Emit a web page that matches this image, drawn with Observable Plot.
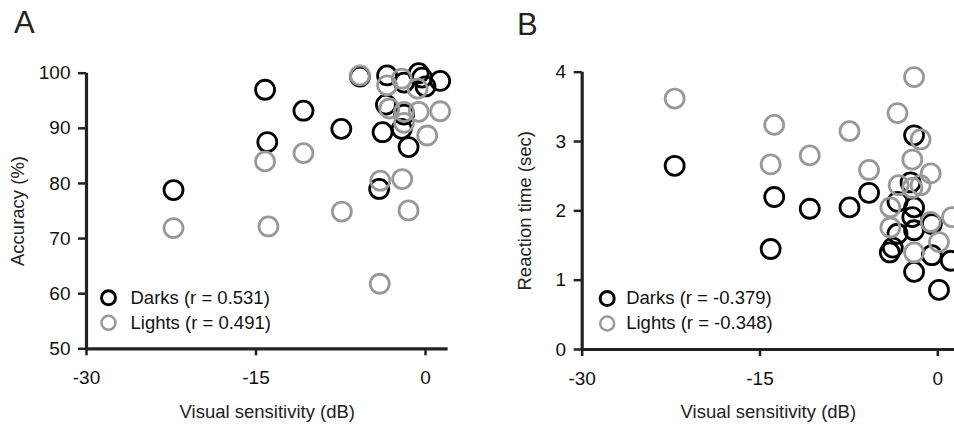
<!DOCTYPE html>
<html><head><meta charset="utf-8">
<script src="https://cdn.jsdelivr.net/npm/d3@7"></script>
<script src="https://cdn.jsdelivr.net/npm/@observablehq/plot@0.6"></script>
<style>
html,body{margin:0;padding:0;background:#fff;overflow:hidden;}
#wrap{position:relative;width:954px;height:426px;font-family:"Liberation Sans",Arial,sans-serif;}
.panel{position:absolute;top:0;}
.letter{position:absolute;font-size:31px;line-height:31px;color:#222;}
</style></head><body>
<div id="wrap">
  <div class="panel" id="pa" style="left:0"></div>
  <div class="panel" id="pb" style="left:477px"></div>
  <div class="letter" style="left:14px;top:7px">A</div>
  <div class="letter" style="left:517px;top:9px">B</div>
</div>
<script>
// ---- Panel A: Accuracy vs visual sensitivity ----
const aDarkX  = [-22.3,-14.2,-14.0,-10.8,-7.45,-5.8,-4.1,-3.8,-3.5,-3.4,-2.1,-1.5,-1.9,-0.6,0.0,1.3,-1.9,-0.3];
const aDarkY  = [78.8,97.0,87.5,93.2,89.9,99.4,79.0,89.3,94.3,99.6,89.9,86.6,98.3,100,97.6,98.6,92.5,99.2];
const aLightX = [-22.3,-14.2,-13.9,-10.8,-7.4,-5.8,-4.0,-4.05,-2.06,-1.5,0.15,1.3,-3.4,-2.1,-0.7,-3.2,-1.9,-0.6,-1.9];
const aLightY = [71.9,84.0,72.2,85.5,74.9,99.6,80.5,61.8,80.8,75.1,88.7,93.1,97.8,99.0,97.2,93.6,93.0,93.0,91.0];
const aLegend = ["Darks (r = 0.531)", "Lights (r = 0.491)"];
const aYTicks = [50,60,70,80,90,100];

// ---- Panel B: Reaction time vs visual sensitivity ----
const bDarkX  = [-22.2,-13.8,-14.1,-10.8,-7.45,-5.8,-2.0,-4.05,-3.8,-2.0,0.1,-0.5,1.1,-0.5,-3.4,-2.3,-2.0,-2.15,-2.0,-3.4];
const bDarkY  = [2.65,2.20,1.45,2.03,2.05,2.26,3.09,1.40,1.47,1.12,0.86,1.36,1.28,1.81,2.13,2.41,2.05,1.91,1.72,1.67];
const bLightX = [-22.2,-13.8,-14.1,-10.8,-7.45,-5.8,-3.4,-2.0,-1.45,-2.15,-0.6,-3.3,-1.45,-2.15,-4.0,-4.0,-2.0,0.1,1.2,-0.6];
const bLightY = [3.62,3.24,2.67,2.80,3.15,2.59,3.41,3.93,3.03,2.74,2.54,2.37,2.37,2.33,2.05,1.76,1.40,1.55,1.91,1.84];
const bLegend = ["Darks (r = -0.379)", "Lights (r = -0.348)"];
const bYTicks = [0,1,2,3,4];

const xTicks = [-30,-15,0];
const xLabel = "Visual sensitivity (dB)";
const aYLabel = "Accuracy (%)";
const bYLabel = "Reaction time (sec)";

const AX = "#222", DARK = "#000", LIGHT = "#999";
const font = "'Liberation Sans', Arial, sans-serif";

function pts(xs, ys){ return xs.map((x,i)=>({x, y: ys[i]})); }

function panel(o){
  return Plot.plot({
    width: 477, height: 426,
    marginLeft: o.ml, marginRight: o.mr, marginTop: o.mt, marginBottom: o.mb,
    x: {domain: o.xd},
    y: {domain: o.yd},
    style: {fontFamily: font, fontSize: "18px", color: "#111", background: "white", overflow: "visible"},
    marks: [
      Plot.axisX(xTicks, {tickSize: 7, tickPadding: 15, tickFormat: d => String(d), label: null, stroke: AX, strokeWidth: 2.5, fontSize: 19}),
      Plot.axisY(o.yt, {tickSize: 8, tickPadding: 8, tickFormat: d => String(d), label: null, stroke: AX, strokeWidth: 2.5, fontSize: 19}),
      Plot.ruleX([o.xd[0]], {stroke: AX, strokeWidth: 3.2}),
      Plot.ruleY([o.yd[0]], {stroke: AX, strokeWidth: 3.2}),
      Plot.text([xLabel], {text: d => d, frameAnchor: "bottom", dy: 63, lineAnchor: "middle", textAnchor: "middle", fontSize: 18.5, fill: "#222"}),
      Plot.text([o.ylabel], {text: d => d, frameAnchor: "left", rotate: -90, dx: o.ylx, textAnchor: "middle", lineAnchor: "middle", fontSize: 18.5, fill: "#222"}),
      Plot.dot(pts(o.dx, o.dy), {x: "x", y: "y", r: 9.5, stroke: DARK, strokeWidth: 2.8}),
      Plot.dot(pts(o.lx, o.ly), {x: "x", y: "y", r: 9.5, stroke: LIGHT, strokeWidth: 2.8}),
      Plot.dot([o.legend[0]], {frameAnchor: "bottom-left", dx: o.legx, dy: -51, r: 7, stroke: DARK, strokeWidth: 3}),
      Plot.dot([o.legend[1]], {frameAnchor: "bottom-left", dx: o.legx, dy: -26, r: 7, stroke: LIGHT, strokeWidth: 2.5}),
      Plot.text([o.legend[0]], {text: d => d, frameAnchor: "bottom-left", dx: o.legt, dy: -51, textAnchor: "start", lineAnchor: "middle", fontSize: 18.5, fill: "#111"}),
      Plot.text([o.legend[1]], {text: d => d, frameAnchor: "bottom-left", dx: o.legt, dy: -26, textAnchor: "start", lineAnchor: "middle", fontSize: 18.5, fill: "#111"})
    ]
  });
}

document.getElementById("pa").appendChild(panel({
  ml: 86, mr: 29.4, mt: 72.7, mb: 77.7, xd: [-30, 2], yd: [50, 100], yt: aYTicks,
  ylabel: aYLabel, ylx: -68, dx: aDarkX, dy: aDarkY, lx: aLightX, ly: aLightY,
  legend: aLegend, legx: 22, legt: 44
}));
document.getElementById("pb").appendChild(panel({
  ml: 104.7, mr: 0, mt: 71.7, mb: 77, xd: [-30, 1.41], yd: [0, 4], yt: bYTicks,
  ylabel: bYLabel, ylx: -57, dx: bDarkX, dy: bDarkY, lx: bLightX, ly: bLightY,
  legend: bLegend, legx: 25, legt: 44
}));
</script>
</body></html>
